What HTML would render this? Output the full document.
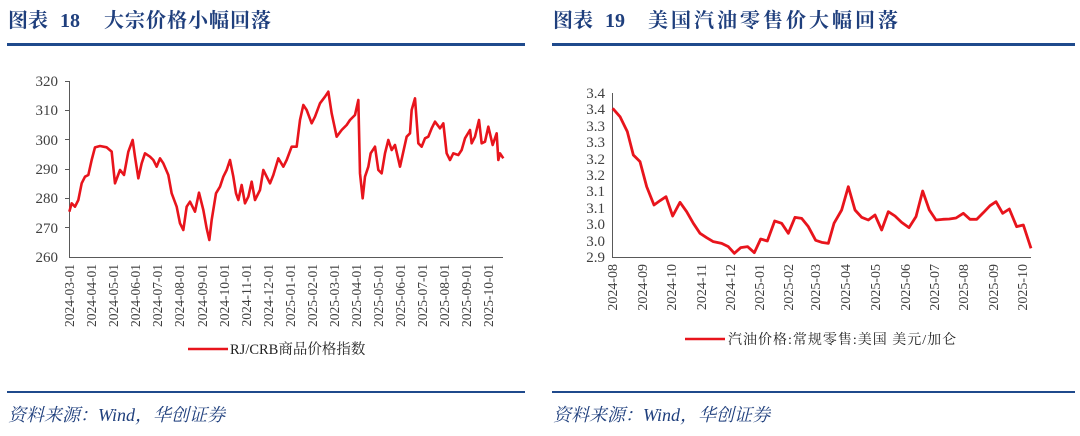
<!DOCTYPE html>
<html><head><meta charset="utf-8"><style>
body{margin:0;width:1080px;height:436px;background:#fff;overflow:hidden;position:relative;font-family:"Liberation Serif","Noto Serif CJK SC",serif}
.t{position:absolute;top:8px;font-size:20px;line-height:26px;height:26px;font-weight:bold;color:#1f3f7d;white-space:pre}
.ln{position:absolute;height:3px;background:#1f4a8c}
.src{position:absolute;top:401px;font-size:18px;font-style:italic;color:#1f3f7d}
</style></head><body>
<div class="t" style="left:8px">图表<span style="position:absolute;left:52px;top:0">18</span><span style="position:absolute;left:96px;top:0;letter-spacing:1px">大宗价格小幅回落</span></div>
<div class="t" style="left:553px">图表<span style="position:absolute;left:52px;top:0">19</span><span style="position:absolute;left:95px;top:0;letter-spacing:3px">美国汽油零售价大幅回落</span></div>
<div class="ln" style="left:7px;width:518px;top:43px"></div>
<div class="ln" style="left:552px;width:523px;top:43px"></div>
<div class="ln" style="left:7px;width:518px;top:391px;height:2px"></div>
<div class="ln" style="left:552px;width:523px;top:391px;height:2px"></div>
<div class="src" style="left:8px">资料来源：Wind，华创证券</div>
<div class="src" style="left:553px">资料来源：Wind，华创证券</div>
<svg width="1080" height="436" style="position:absolute;left:0;top:0" font-family="Liberation Serif, Noto Serif CJK SC, serif">
<g stroke="#595959" stroke-width="1" fill="none">
<line x1="69.5" y1="81" x2="69.5" y2="257"/><line x1="69" y1="257.5" x2="503" y2="257.5"/>
<line x1="612.5" y1="93" x2="612.5" y2="257"/><line x1="612" y1="257.5" x2="1031" y2="257.5"/>
</g>
<g font-size="15" fill="#404040" text-anchor="end">
<text x="58" y="86">320</text><text x="58" y="115">310</text><text x="58" y="145">300</text><text x="58" y="174">290</text><text x="58" y="203">280</text><text x="58" y="233">270</text><text x="58" y="262">260</text>
</g>
<g stroke="#595959">
<line x1="65" y1="81.5" x2="69" y2="81.5"/><line x1="65" y1="110.5" x2="69" y2="110.5"/><line x1="65" y1="139.5" x2="69" y2="139.5"/><line x1="65" y1="169.5" x2="69" y2="169.5"/><line x1="65" y1="198.5" x2="69" y2="198.5"/><line x1="65" y1="227.5" x2="69" y2="227.5"/>
</g>
<g font-size="13.5" fill="#404040" text-anchor="end">
<text transform="translate(74,264) rotate(-90)">2024-03-01</text>
<text transform="translate(96,264) rotate(-90)">2024-04-01</text>
<text transform="translate(118,264) rotate(-90)">2024-05-01</text>
<text transform="translate(140,264) rotate(-90)">2024-06-01</text>
<text transform="translate(162,264) rotate(-90)">2024-07-01</text>
<text transform="translate(184,264) rotate(-90)">2024-08-01</text>
<text transform="translate(207,264) rotate(-90)">2024-09-01</text>
<text transform="translate(229,264) rotate(-90)">2024-10-01</text>
<text transform="translate(251,264) rotate(-90)">2024-11-01</text>
<text transform="translate(273,264) rotate(-90)">2024-12-01</text>
<text transform="translate(295,264) rotate(-90)">2025-01-01</text>
<text transform="translate(317,264) rotate(-90)">2025-02-01</text>
<text transform="translate(339,264) rotate(-90)">2025-03-01</text>
<text transform="translate(361,264) rotate(-90)">2025-04-01</text>
<text transform="translate(383,264) rotate(-90)">2025-05-01</text>
<text transform="translate(405,264) rotate(-90)">2025-06-01</text>
<text transform="translate(427,264) rotate(-90)">2025-07-01</text>
<text transform="translate(449,264) rotate(-90)">2025-08-01</text>
<text transform="translate(471,264) rotate(-90)">2025-09-01</text>
<text transform="translate(493,264) rotate(-90)">2025-10-01</text>
</g>
<g transform="translate(0,60) scale(0.33333)">
<polyline fill="none" stroke="#e8141c" stroke-width="2.6" vector-effect="non-scaling-stroke" stroke-linejoin="round" points="208,455 215,430 225,440 235,420 245,370 255,350 265,345 275,300 285,262 300,258 320,262 335,275 345,370 360,330 372,345 385,275 398,240 405,290 415,355 425,310 435,280 450,290 460,300 470,320 480,295 490,310 505,345 515,400 530,440 540,490 550,510 560,440 570,425 585,455 597,398 610,450 620,505 628,540 635,480 648,400 660,380 670,350 680,330 690,300 700,350 708,400 715,420 725,375 735,430 745,410 755,365 765,420 780,390 790,330 810,370 820,345 835,295 850,320 860,300 875,260 890,260 900,180 910,135 920,150 935,190 945,170 960,130 975,110 985,95 995,160 1010,230 1025,210 1040,195 1050,180 1065,165 1075,120 1080,340 1088,415 1095,350 1105,320 1112,280 1125,260 1135,330 1145,340 1155,280 1165,240 1175,270 1185,255 1200,320 1210,275 1220,230 1230,220 1235,150 1245,115 1255,250 1265,260 1275,235 1285,230 1295,205 1305,185 1320,205 1330,190 1340,280 1350,300 1360,280 1375,285 1385,270 1395,235 1410,210 1415,250 1425,230 1437,180 1445,250 1455,245 1465,200 1478,255 1490,220 1495,300 1500,280 1510,295"/>
</g>
<line x1="188" y1="349" x2="228" y2="349" stroke="#e8141c" stroke-width="2.5"/>
<text x="230" y="354" font-size="14.5" fill="#222">RJ/CRB商品价格指数</text>

<g font-size="15" fill="#404040" text-anchor="end">
<text x="605" y="98">3.4</text><text x="605" y="114">3.4</text><text x="605" y="131">3.3</text><text x="605" y="147">3.3</text><text x="605" y="164">3.2</text><text x="605" y="180">3.2</text><text x="605" y="196">3.1</text><text x="605" y="213">3.1</text><text x="605" y="229">3.0</text><text x="605" y="246">3.0</text><text x="605" y="262">2.9</text>
</g>
<g font-size="14" fill="#404040" text-anchor="end">
<text transform="translate(617,264) rotate(-90)">2024-08</text>
<text transform="translate(647,264) rotate(-90)">2024-09</text>
<text transform="translate(676,264) rotate(-90)">2024-10</text>
<text transform="translate(706,264) rotate(-90)">2024-11</text>
<text transform="translate(735,264) rotate(-90)">2024-12</text>
<text transform="translate(764,264) rotate(-90)">2025-01</text>
<text transform="translate(793,264) rotate(-90)">2025-02</text>
<text transform="translate(820,264) rotate(-90)">2025-03</text>
<text transform="translate(850,264) rotate(-90)">2025-04</text>
<text transform="translate(880,264) rotate(-90)">2025-05</text>
<text transform="translate(910,264) rotate(-90)">2025-06</text>
<text transform="translate(939,264) rotate(-90)">2025-07</text>
<text transform="translate(968,264) rotate(-90)">2025-08</text>
<text transform="translate(998,264) rotate(-90)">2025-09</text>
<text transform="translate(1027,264) rotate(-90)">2025-10</text>
</g>
<g transform="translate(550,60) scale(0.33333)">
<polyline fill="none" stroke="#e8141c" stroke-width="2.8" vector-effect="non-scaling-stroke" stroke-linejoin="round" points="188,145 210,170 232,215 250,285 270,305 290,380 312,435 330,422 348,410 368,468 390,427 410,455 430,490 450,520 470,533 490,545 515,550 535,560 553,580 572,563 593,560 613,578 632,537 652,543 674,483 695,490 715,520 735,472 755,475 775,500 797,541 815,547 835,550 852,490 875,450 895,380 915,450 935,472 955,480 975,465 995,510 1015,455 1035,468 1055,487 1077,503 1098,470 1118,393 1138,450 1158,480 1178,478 1198,477 1218,474 1240,460 1260,478 1280,478 1300,458 1320,437 1338,425 1358,460 1378,447 1400,500 1420,495 1443,565"/>
</g>
<line x1="685" y1="339" x2="725" y2="339" stroke="#e8141c" stroke-width="2.5"/>
<text x="728" y="344" font-size="14" fill="#222" letter-spacing="1">汽油价格:常规零售:美国 美元/加仑</text>
</svg>
</body></html>
